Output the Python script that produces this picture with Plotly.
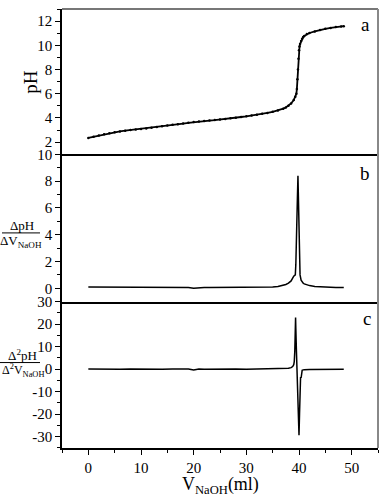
import plotly.graph_objects as go

# ---------------- data ----------------
v_ph = [0, 1, 2, 3, 4, 5, 6, 7, 8, 9, 10, 11, 12, 13, 14, 15, 16, 17, 18, 19,
        20, 21, 22, 23, 24, 25, 26, 27, 28, 29, 30, 31, 32, 33, 34, 35, 36, 37,
        37.5, 38, 38.5, 39, 39.3, 39.5, 39.6, 39.7, 39.8, 39.9, 40.0, 40.1, 40.2,
        40.4, 40.6, 40.8, 41, 41.5, 42, 43, 44, 45, 46, 47, 48, 48.5]
ph = [2.35, 2.45, 2.55, 2.65, 2.74, 2.82, 2.89, 2.95, 3.0, 3.04, 3.08, 3.14, 3.2,
      3.26, 3.32, 3.38, 3.44, 3.49, 3.54, 3.6, 3.66, 3.71, 3.75, 3.79, 3.83, 3.87,
      3.92, 3.97, 4.02, 4.08, 4.14, 4.2, 4.27, 4.34, 4.42, 4.51, 4.62, 4.77,
      4.87, 5.0, 5.2, 5.48, 5.75, 6.0, 6.4, 7.2, 8.0, 8.9, 9.6, 9.9, 10.1,
      10.35, 10.55, 10.68, 10.78, 10.93, 11.02, 11.15, 11.27, 11.36, 11.44, 11.51,
      11.56, 11.58]

v_d1 = [0, 1, 2, 3, 4, 5, 6, 7, 8, 9, 10, 11, 12, 13, 14, 15, 16, 17, 18, 19,
        20, 21, 22, 23, 24, 25, 26, 27, 28, 29, 30, 31, 32, 33, 34, 35, 36, 37,
        37.5, 38, 38.5, 39, 39.3, 39.4, 39.5, 39.6, 39.7, 39.8, 39.9, 40.0, 40.1,
        40.2, 40.4, 40.6, 40.8, 41, 41.5, 42, 43, 44, 45, 46, 47, 48, 48.5]
d1 = [0.1, 0.1, 0.1, 0.09, 0.09, 0.08, 0.08, 0.07, 0.06, 0.06, 0.06, 0.06, 0.06,
      0.06, 0.05, 0.06, 0.05, 0.05, 0.05, 0.05, 0.0, 0.05, 0.05, 0.05, 0.05, 0.05,
      0.05, 0.06, 0.06, 0.06, 0.06, 0.07, 0.07, 0.08, 0.09, 0.1, 0.13, 0.2,
      0.28, 0.38, 0.55, 0.9, 1.0, 1.8, 3.0, 5.0, 6.8, 8.4, 6.5, 3.5, 1.8,
      1.0, 0.6, 0.45, 0.38, 0.33, 0.25, 0.2, 0.14, 0.11, 0.09, 0.07, 0.06, 0.05,
      0.05]

v_d2 = [0, 2, 4, 6, 8, 10, 12, 14, 16, 18, 19, 20, 21, 22, 24, 26, 28, 30, 32,
        34, 36, 37, 38, 38.5, 38.8, 39.0, 39.1, 39.2, 39.3, 39.35, 39.4, 39.5,
        39.6, 39.65, 39.7, 39.8, 39.9, 40.0, 40.1, 40.2, 40.3, 40.4, 40.5, 40.6,
        40.8, 41, 42, 43, 44, 45, 46, 47, 48, 48.5]
d2 = [0.1, 0.0, 0.1, 0.0, 0.1, 0.0, 0.1, 0.0, 0.1, 0.0, 0.1, -0.4, 0.1, 0.0,
      0.1, 0.0, 0.1, 0.0, 0.1, 0.1, 0.2, 0.3, 0.4, 0.7, 1.2, 2.0, 3.4, 8.0,
      19.0, 23.0, 18.0, 9.0, 2.0, 0.0, -6.0, -16.0, -24.0, -29.3, -20.0, -8.0,
      -3.5, -3.9, -1.0, -0.5, -0.3, -0.2, -0.1, -0.1, 0.0, 0.0, 0.0, 0.0, 0.0, 0.0]

ph_ticks = [2, 4, 6, 8, 10, 12]
d1_ticks = [0, 2, 4, 6, 8, 10]
d2_ticks = [-30, -20, -10, 0, 10, 20, 30]
d2_ticktext = ["-30", "-20", "-10", "0", "10", "20", "30"]
x_ticks = [0, 10, 20, 30, 40, 50]

# ---------------- figure ----------------
W, H = 379, 498
ML, MR, MT, MB = 62, 1, 1, 50
PW, PH = W - ML - MR, H - MT - MB


def px_x(p):
    return (p - ML) / PW


def px_y(p):
    return (MT + PH - p) / PH


FONT = "Liberation Serif"
fig = go.Figure()

fig.add_trace(go.Scatter(x=v_ph, y=ph, mode="lines+markers",
                         line=dict(color="black", width=1.8),
                         marker=dict(color="black", size=2.5),
                         xaxis="x", yaxis="y", showlegend=False))
fig.add_trace(go.Scatter(x=v_d1, y=d1, mode="lines",
                         line=dict(color="black", width=1.5),
                         xaxis="x2", yaxis="y2", showlegend=False))
fig.add_trace(go.Scatter(x=v_d2, y=d2, mode="lines",
                         line=dict(color="black", width=1.5),
                         xaxis="x3", yaxis="y3", showlegend=False))

d_c = [0, 1 / 3]
d_b = [1 / 3, 0.669]
d_a = [0.669, 1]

xcommon = dict(range=[-5, 55], showgrid=False, zeroline=False, showline=True,
               linecolor="black", linewidth=1.5)
ycommon = dict(showgrid=False, zeroline=False, showline=True, linecolor="black",
               linewidth=1.5, ticks="outside", ticklen=5, tickwidth=1,
               tickcolor="black",
               tickfont=dict(family=FONT, size=15, color="black"))

fig.update_layout(
    width=W, height=H,
    margin=dict(l=ML, r=MR, t=MT, b=MB),
    paper_bgcolor="white", plot_bgcolor="white",
    font=dict(family=FONT, color="black"),
    xaxis=dict(**xcommon, anchor="y", domain=[0, 1], showticklabels=False,
               ticks=""),
    xaxis2=dict(**xcommon, anchor="y2", domain=[0, 1], showticklabels=False,
                ticks=""),
    xaxis3=dict(**xcommon, anchor="y3", domain=[0, 1], tickvals=x_ticks,
                ticks="outside", ticklen=5, tickcolor="black",
                tickfont=dict(family=FONT, size=15, color="black"),
                minor=dict(dtick=5, tick0=0, ticks="outside", ticklen=3,
                           tickcolor="black")),
    yaxis=dict(**ycommon, anchor="x", domain=d_a, range=[1, 13],
               tickvals=ph_ticks,
               minor=dict(dtick=1, tick0=1, ticks="outside", ticklen=3,
                          tickcolor="black")),
    yaxis2=dict(**ycommon, anchor="x2", domain=d_b, range=[-1, 10],
                tickvals=d1_ticks,
                minor=dict(dtick=1, tick0=1, ticks="outside", ticklen=3,
                           tickcolor="black")),
    yaxis3=dict(**ycommon, anchor="x3", domain=d_c, range=[-35, 30],
                tickvals=d2_ticks, ticktext=d2_ticktext,
                minor=dict(dtick=5, tick0=-35, ticks="outside", ticklen=3,
                           tickcolor="black")),
)

shapes = [
    # gray frame top and right
    dict(type="line", xref="paper", yref="paper", x0=0, x1=1, y0=1, y1=1,
         line=dict(color="#777777", width=2)),
    dict(type="line", xref="paper", yref="paper", x0=1, x1=1, y0=0, y1=1,
         line=dict(color="#888888", width=2)),
    # fraction bars
    dict(type="line", xref="paper", yref="paper", x0=px_x(2), x1=px_x(40),
         y0=px_y(229), y1=px_y(229), line=dict(color="black", width=1)),
    dict(type="line", xref="paper", yref="paper", x0=px_x(0), x1=px_x(40),
         y0=px_y(361), y1=px_y(361), line=dict(color="black", width=1)),
]
fig.update_layout(shapes=shapes)

ann = []


def add_text(text, x, y, size, angle=0, xanchor="center"):
    ann.append(dict(text=text, xref="paper", yref="paper", x=px_x(x), y=px_y(y),
                    xanchor=xanchor, yanchor="middle", showarrow=False,
                    textangle=angle,
                    font=dict(family=FONT, size=size, color="black")))


add_text("pH", 31, 75, 19, angle=-90)
add_text("ΔpH", 22, 221, 13)
add_text("ΔV<sub>NaOH</sub>", 21, 238, 13)
add_text("Δ<sup>2</sup>pH", 22, 353, 13)
add_text("Δ<sup>2</sup>V<sub>NaOH</sub>", 0, 369, 12, xanchor="left")
add_text("a", 372, 17, 19, xanchor="right")
add_text("b", 372, 169, 19, xanchor="right")
add_text("c", 373, 316, 19, xanchor="right")
add_text("V<sub>NaOH</sub>(ml)", 220, 486, 18)
fig.update_layout(annotations=ann)

fig.write_html("out.html",
               config={"displayModeBar": False},
               post_script="document.body.style.margin='0px';"
                           "document.body.style.overflow='hidden';")
